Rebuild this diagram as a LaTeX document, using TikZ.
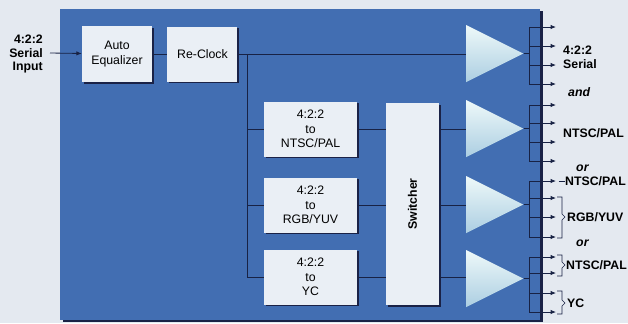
\documentclass[tikz,border=0pt]{standalone}
\usepackage{fontspec}
\setmainfont{Liberation Sans}
\usetikzlibrary{
    arrows.meta,
    positioning,
    shapes.geometric,
    shadows
}
\definecolor{paperbg}{RGB}{228,233,240}
\definecolor{boardblue}{RGB}{66,110,178}
\definecolor{blockfill}{RGB}{234,239,245}
\definecolor{wirenavy}{RGB}{24,34,68}
\definecolor{shadownavy}{RGB}{26,34,70}
\definecolor{ampwhite}{RGB}{238,249,249}
\definecolor{ampcyan}{RGB}{172,206,226}

\begin{document}
\begin{tikzpicture}[
    x=0.03cm,
    y=-0.03cm,
    board/.style={
        fill=boardblue,
        minimum width=14.4cm,
        minimum height=9.33cm,
        inner sep=0pt,
        drop shadow={shadow xshift=2.5pt, shadow yshift=-2pt,
            fill=shadownavy, opacity=1}
    },
    block/.style={
        fill=blockfill,
        align=center,
        inner sep=2pt,
        font=\fontsize{10.5}{12.5}\selectfont,
        drop shadow={shadow xshift=1.5pt, shadow yshift=-1.5pt,
            fill=shadownavy, opacity=1}
    },
    converter/.style={
        block,
        minimum width=2.79cm,
        minimum height=1.65cm
    },
    amp/.style={
        isosceles triangle,
        isosceles triangle stretches,
        minimum width=1.71cm,
        minimum height=1.71cm,
        inner sep=0pt,
        top color=ampwhite,
        bottom color=ampcyan,
        anchor=lower side
    },
    wire/.style={
        draw=wirenavy,
        line width=0.7pt
    },
    outarrow/.style={
        wire,
        -{Latex[length=1.6mm, width=1.3mm]}
    },
    outlabel/.style={
        anchor=west,
        align=left,
        inner sep=0pt,
        font=\bfseries\fontsize{10.5}{12}\selectfont
    },
    joiner/.style={
        anchor=west,
        inner sep=0pt,
        font=\bfseries\itshape\fontsize{10.5}{12}\selectfont
    }
]

\fill[paperbg] (0,0) rectangle (628,323);
\useasboundingbox (0,0) rectangle (628,323);

\node[board] (board) at (300,164.5) {};

% input chain
\node[
    block,
    minimum width=2.1cm,
    minimum height=1.68cm
] (autoeq) at (117,54) {Auto\\Equalizer};

\node[
    block,
    minimum width=2.1cm,
    minimum height=1.65cm,
    right=0.45cm of autoeq
] (reclock) {Re-Clock};

\node[outlabel, anchor=east, align=right, font=\bfseries\fontsize{10.5}{11.5}\selectfont]
    (inlabel) at (43,54) {4:2:2\\Serial\\Input};
\coordinate (input) at (50,53);

% converters and switcher
\node[converter] (ntsc) at (310.5,129) {4:2:2\\to\\NTSC/PAL};
\node[converter] (rgb) at (310.5,205) {4:2:2\\to\\RGB/YUV};
\node[converter] (yc) at (310.5,277) {4:2:2\\to\\YC};

\node[
    block,
    minimum width=1.59cm,
    minimum height=6.06cm
] (switcher) at (412.5,204) {\rotatebox{90}{\textbf{Switcher}}};

% output amplifiers
\node[amp] (amp1) at (466,53.5) {};
\node[amp] (amp2) at (466,128.5) {};
\node[amp] (amp3) at (466,204.5) {};
\node[amp] (amp4) at (466,278.5) {};

\draw[outarrow] (input) -- (autoeq);
\draw[wire] (autoeq) -- (reclock);
\draw[wire] (reclock.east) -- (reclock.east -| amp1.lower side);

\coordinate (split) at (247,54);
\draw[wire] (split) |- (yc);
\draw[wire] (split |- ntsc) -- (ntsc);
\draw[wire] (split |- rgb) -- (rgb);

\foreach \src/\amp in {ntsc/amp2, rgb/amp3, yc/amp4} {
    \draw[wire] (\src) -- (\src -| switcher.west);
    \draw[wire] (switcher.east |- \src) -- (\src -| \amp.lower side);
}

% output buses
\foreach \y [count=\i] in {27,46,65,84,105,123,142,161,181,198,217,237,257,273,293,312} {
    \coordinate (bus\i) at (529,\y);
    \coordinate (out\i) at (556,\y);
    \draw[outarrow] (bus\i) -- (out\i);
}

\foreach \amp/\a/\b in {amp1/1/4, amp2/5/8, amp3/9/12, amp4/13/16} {
    \draw[wire] (bus\a) -- (bus\b);
    \draw[wire] (\amp.apex) -- (\amp.apex -| bus\a);
}

% output labels
\node[outlabel] (serlabel) at (563,57) {4:2:2\\Serial};
\node[joiner] (and) at (568,92) {and};
\node[outlabel] (ntsclabel) at (563,133) {NTSC/PAL};
\node[joiner] (ortop) at (576,168) {or};
\node[outlabel] (ntscalt) at (565,181) {NTSC/PAL};
\node[outlabel] (rgblabel) at (567,217) {RGB/YUV};
\node[joiner] (ormid) at (576,243) {or};
\node[outlabel] (ntsclow) at (566,265) {NTSC/PAL};
\node[outlabel] (yclabel) at (567,303) {YC};

\draw[wire] (558.5,181) -- (ntscalt.west);

% brackets
\draw[wire, line width=0.5pt] (557,197) -- (562,197) -- (562,214) -- (565,217)
    -- (562,220) -- (562,238) -- (557,238);
\draw[wire, line width=0.5pt] (557,255) -- (562,255) -- (562,262) -- (565,265)
    -- (562,268) -- (562,276) -- (557,276);
\draw[wire, line width=0.5pt] (557,291) -- (562,291) -- (562,300) -- (565,303)
    -- (562,306) -- (562,314) -- (557,314);

\end{tikzpicture}
\end{document}
